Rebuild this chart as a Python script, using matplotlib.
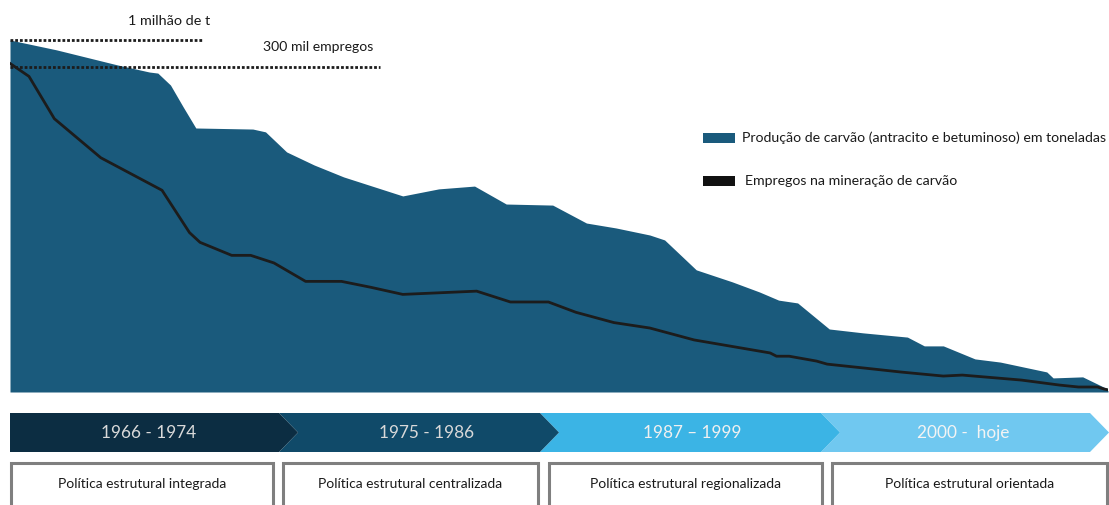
import matplotlib
matplotlib.use("Agg")
import matplotlib.pyplot as plt
from matplotlib.patches import Polygon, Rectangle

plt.rcParams['font.family'] = ['Lato', 'DejaVu Sans']

# ---------------- data ----------------
prod_years = [1966.0, 1968.2, 1971.1, 1972.6, 1973.0, 1973.6, 1974.2, 1974.8,
              1977.5, 1978.1, 1979.1, 1980.4, 1981.8, 1984.6, 1986.3, 1988.0,
              1989.5, 1991.7, 1993.3, 1994.7, 1996.3, 1997.0, 1998.5, 2000.2,
              2001.5, 2002.4, 2003.3, 2004.8, 2006.4, 2008.5, 2009.3, 2010.2,
              2011.7, 2012.9, 2014.0, 2015.1, 2015.4, 2016.8, 2017.9, 2018.0]
prod_mt = [1.000, 0.972, 0.929, 0.909, 0.906, 0.872, 0.810, 0.750,
           0.747, 0.739, 0.682, 0.645, 0.611, 0.557, 0.577, 0.585,
           0.534, 0.531, 0.480, 0.466, 0.446, 0.432, 0.347, 0.313,
           0.284, 0.261, 0.253, 0.179, 0.168, 0.156, 0.131, 0.131,
           0.094, 0.085, 0.071, 0.057, 0.040, 0.043, 0.011, 0.003]

emp_years = [1966.0, 1966.9, 1968.1, 1970.3, 1973.2, 1974.5, 1975.0, 1976.5,
             1977.4, 1978.5, 1980.0, 1981.7, 1983.1, 1984.6, 1988.1, 1989.7,
             1991.5, 1992.8, 1994.6, 1996.3, 1998.4, 2002.0, 2002.3, 2002.9,
             2004.2, 2004.7, 2006.5, 2008.2, 2010.2, 2011.1, 2013.9, 2015.7,
             2016.6, 2017.5, 2017.8, 2018.0]
emp_thousand = [303, 291, 252, 216, 186, 147, 138, 126,
                126, 119, 102, 102, 96.5, 90, 93, 83,
                83, 73.5, 64, 59, 48, 36, 33, 33,
                28.5, 25.7, 22, 18.4, 14.7, 15.6, 11, 6.4,
                4.6, 4.6, 2.8, 2.0]

prod_ref = 1.0          # 1 milhão de t
emp_ref = 300           # 300 mil empregos
prod_ref_end = 1975.1
emp_ref_end = 1983.5
ref_labels = ["1 milhão de t", "300 mil empregos"]
legend_labels = ["Produção de carvão (antracito e betuminoso) em toneladas",
                 "Empregos na mineração de carvão"]
periods = ["1966 - 1974", "1975 - 1986", "1987 \u2013 1999", "2000 -  hoje"]
policies = ["Política estrutural integrada", "Política estrutural centralizada",
            "Política estrutural regionalizada", "Política estrutural orientada"]

# ---------------- styles ----------------
AREA = '#1a5a7c'
LINE = '#1c1c1c'
SEG_COLORS = ['#0c2d42', '#104a69', '#3bb4e5', '#70c8f0']
SEG_TEXT = ['#d9d9d9', '#d9d9d9', '#f0f0f0', '#f4f4f4']
BOX_EDGE = '#7f7f7f'

W, H = 1109, 505
fig = plt.figure(figsize=(W / 100, H / 100), dpi=100)

# main chart axes (pixel box x 10..1108, y 30..392)
ax = fig.add_axes([10 / W, (H - 392) / H, 1098 / W, 362 / H])
ax.set_xlim(1966, 2018)
ax.set_ylim(0, 1.0284)
ax.fill_between(prod_years, prod_mt, 0, color=AREA, lw=0)
ax.plot([prod_years[0], prod_ref_end], [prod_ref, prod_ref], color=LINE,
        lw=2.0, ls=(0, (1, 0.7)), clip_on=False, zorder=5)
ax.axis('off')

ax2 = ax.twinx()
ax2.set_ylim(0, 333.8)
ax2.plot(emp_years, emp_thousand, color=LINE, lw=2.0, solid_joinstyle='round')
ax2.plot([emp_years[0], emp_ref_end], [emp_ref, emp_ref], color=LINE,
         lw=2.0, ls=(0, (1, 0.7)), clip_on=False, zorder=5)
ax2.axis('off')

# overlay in pixel coordinates
ov = fig.add_axes([0, 0, 1, 1])
ov.set_xlim(0, W)
ov.set_ylim(H, 0)
ov.axis('off')

fig.canvas.draw()
r = fig.canvas.get_renderer()


def fit(t, wpx):
    w = t.get_window_extent(r).width
    t.set_fontsize(t.get_fontsize() * wpx / w)
    return t.get_fontsize()


t = ov.text(128, 21, ref_labels[0], ha='left', va='center', fontsize=11, color='#1a1a1a')
fit(t, 82)
t = ov.text(263, 47, ref_labels[1], ha='left', va='center', fontsize=11, color='#1a1a1a')
fit(t, 110)

# legend
ov.add_patch(Rectangle((703, 133), 32, 10, facecolor=AREA, edgecolor='none'))
ov.add_patch(Rectangle((703, 176), 32, 10, facecolor='#111111', edgecolor='none'))
t = ov.text(742, 138, legend_labels[0], ha='left', va='center', fontsize=10.5, color='#1a1a1a')
leg_fs = fit(t, 366)
ov.text(745, 181, legend_labels[1], ha='left', va='center', fontsize=leg_fs, color='#1a1a1a')

# timeline chevrons
top, bot, mid, d = 413, 452, 432.5, 19
rights = [279, 540, 821, 1090]
lefts = [10] + rights[:-1]
for i, (L, R) in enumerate(zip(lefts, rights)):
    pts = [(L, top), (R, top), (R + d, mid), (R, bot), (L, bot)]
    if i > 0:
        pts.append((L + d, mid))
    ov.add_patch(Polygon(pts, closed=True, facecolor=SEG_COLORS[i],
                         edgecolor='none', zorder=2 + (3 - i) * 0.1))
centers = [148.5, 427, 692, 963]
t0 = ov.text(centers[0], 433, periods[0], ha='center', va='center', fontsize=13,
             color=SEG_TEXT[0], zorder=5)
per_fs = fit(t0, 95)
for i in range(1, 4):
    ov.text(centers[i], 433, periods[i], ha='center', va='center', fontsize=per_fs,
            color=SEG_TEXT[i], zorder=5)

# policy boxes
boxes = [(11, 273), (283, 538), (549, 822), (832, 1107)]
box_fs = None
for i, (x0, x1) in enumerate(boxes):
    ov.add_patch(Rectangle((x0, 463), x1 - x0, 70, facecolor='white',
                           edgecolor=BOX_EDGE, lw=2.2, clip_on=False))
    t = ov.text((x0 + x1) / 2, 484, policies[i], ha='center', va='center',
                fontsize=box_fs if box_fs else 10.5, color='#1a1a1a')
    if box_fs is None:
        box_fs = fit(t, 170)

fig.savefig('out.png', dpi=100)
